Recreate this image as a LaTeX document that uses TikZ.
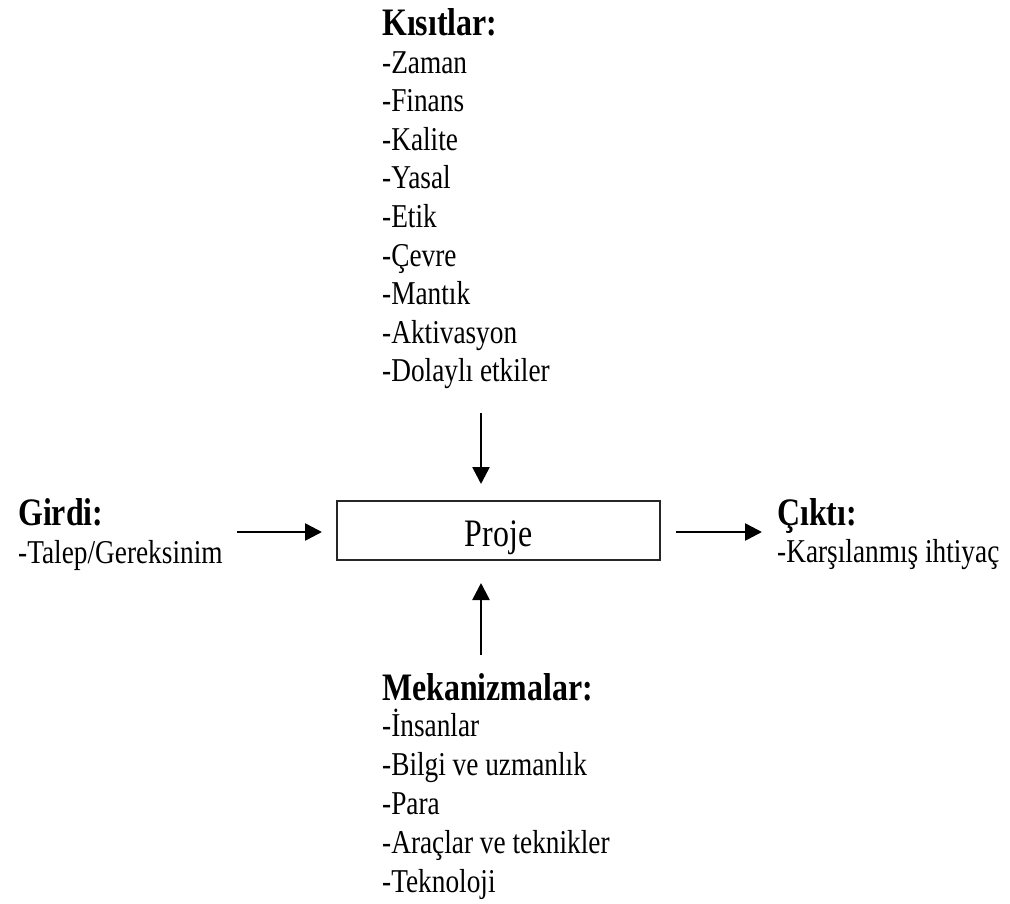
\documentclass[tikz,border=0pt]{standalone}
\usepackage{fontspec}
\setmainfont{Liberation Serif}[FakeStretch=0.82]
\usetikzlibrary{arrows.meta}
\begin{document}
\begin{tikzpicture}[x=1pt,y=-1pt,
  hdr/.style={inner sep=0pt,anchor=base west,font=\fontsize{38.9}{44}\selectfont\bfseries},
  itm/.style={inner sep=0pt,anchor=base west,font=\fontsize{33.3}{38}\selectfont},
  boxn/.style={draw=black!85,line width=2pt,minimum width=323pt,minimum height=59pt,inner sep=0pt,
    text height=31pt,text depth=0pt,font=\fontsize{38.9}{44}\selectfont},
  arr/.style={line width=2.6pt,-{Triangle[length=17pt,width=17pt]}}]
\useasboundingbox (0,0) rectangle (1010,903);
% central box
\node[boxn] (proj) at (498.5,530.5) {Proje};
% Kisitlar
\node[hdr] (kh) at (382,35) {Kısıtlar:};
\foreach \t [count=\i from 0] in {Zaman,Finans,Kalite,Yasal,Etik,Çevre,Mantık,Aktivasyon,Dolaylı etkiler}
  \node[itm] (k\i) at (382,73+38.6*\i) {-\t};
% Mekanizmalar
\node[hdr] (mh) at (382,700) {Mekanizmalar:};
\foreach \t [count=\i from 0] in {İnsanlar,Bilgi ve uzmanlık,Para,Araçlar ve teknikler,Teknoloji}
  \node[itm] (m\i) at (382,736+39.2*\i) {-\t};
% Girdi
\node[hdr] (gh) at (18,525) {Girdi:};
\node[itm] (g1) at (18,563) {-Talep/Gereksinim};
% Cikti
\node[hdr] (ch) at (777,525) {Çıktı:};
\node[itm] (c1) at (777,562) {-Karşılanmış ihtiyaç};
% arrows
\coordinate (topA) at (481,413);
\coordinate (botA) at (481,655);
\coordinate (inL) at (237,532);
\coordinate (outR) at (762,532);
\draw[arr,shorten >=16pt] (topA) -- (topA |- proj.north);
\draw[arr,shorten >=22pt] (botA) -- (botA |- proj.south);
\draw[arr,shorten >=14pt] (inL) -- (inL -| proj.west);
\draw[arr,shorten <=15pt] (outR -| proj.east) -- (outR);
\end{tikzpicture}
\end{document}
